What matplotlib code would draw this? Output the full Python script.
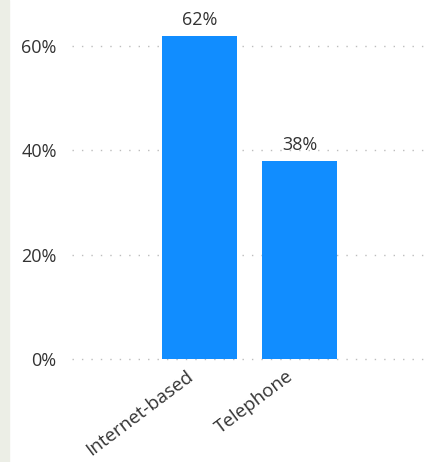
import matplotlib
matplotlib.use('Agg')
from matplotlib import pyplot as plt
from matplotlib.patches import Rectangle
import matplotlib.transforms as mtransforms

# Chart data
categories = ['Internet-based', 'Telephone']
shares = [62, 38]
y_ticks = [0, 20, 40, 60]

bar_color = '#118DFF'
text_color = '#333333'

plt.rcParams['font.family'] = ['Open Sans', 'DejaVu Sans']

fig = plt.figure(figsize=(4.38, 4.62), dpi=100)
# faint strip of the page behind the visual on the left edge
fig.patches.append(Rectangle((0, 0), 9 / 438, 1, transform=fig.transFigure,
                             color='#eceee6', zorder=0))

ax = fig.add_axes([72 / 438, 103 / 462, 358 / 438, 339 / 462])
x = list(range(len(categories)))
ax.bar(x, shares, width=0.75, color=bar_color, zorder=2)

for xi, v in zip(x, shares):
    ax.annotate(f'{v}%', (xi, v), xytext=(0, 5), textcoords='offset points',
                ha='center', va='bottom', fontsize=13, color=text_color)

ax.set_xlim(-1.275, 2.305)
ax.set_ylim(0, 65)
ax.set_yticks(y_ticks)
ax.set_yticklabels([f'{t}%' for t in y_ticks], fontsize=13, color=text_color)
ax.set_xticks(x)
ax.set_xticklabels(categories, rotation=37, ha='right', va='top',
                   rotation_mode='anchor', fontsize=13.5, color=text_color)
ax.tick_params(axis='both', length=0)
ax.tick_params(axis='y', pad=11)
ax.tick_params(axis='x', pad=6)
shift = mtransforms.ScaledTranslation(-14 / 100, 0, fig.dpi_scale_trans)
for lbl in ax.get_xticklabels():
    lbl.set_transform(lbl.get_transform() + shift)

ax.yaxis.grid(True, color='#bdbdbd', linewidth=1.0, linestyle=(0, (1, 5.8)), zorder=0)
for gl in ax.get_ygridlines():
    gl.set_clip_on(False)
ax.set_axisbelow(True)
for s in ax.spines.values():
    s.set_visible(False)

fig.savefig('out.png', dpi=100)
